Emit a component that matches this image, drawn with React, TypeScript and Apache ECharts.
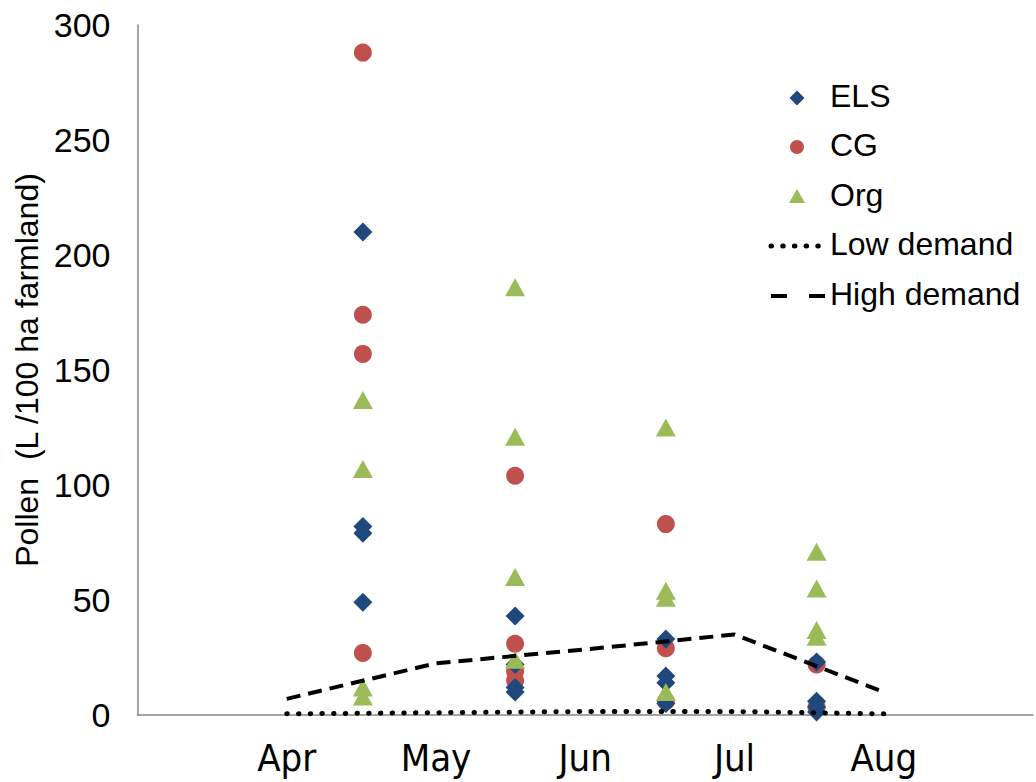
import React, { useEffect, useRef } from "react";
import * as echarts from "echarts";

// Month tick labels and their positions on the x value axis
const months = ["Apr", "May", "Jun", "Jul", "Aug"];
const monthPos = [1, 2, 3, 4, 5];

// Sampling rounds sit between month ticks
const sampleX = [1.51, 2.53, 3.54, 4.55];

// Pollen per sampling round (L /100 ha farmland)
const elsValues = [
  [210, 82, 79, 49],
  [43, 22, 12, 10],
  [33, 17, 14, 5],
  [23, 6, 3.5, 1.3],
];
const cgValues = [
  [288, 174, 157, 27],
  [104, 31, 19, 15],
  [83, 29, 6],
  [22, 3.5],
];
const orgValues = [
  [137, 107, 12, 8],
  [186, 121, 60, 24],
  [125, 54, 51, 10],
  [71, 55, 37, 34],
];

// Colony demand curves at each month
const lowDemand = [0.5, 1, 1.5, 1.5, 0.5];
const highDemand = [7, 22.5, 28.5, 35, 10];

const legendNames = ["ELS", "CG", "Org", "Low demand", "High demand"];

const toPoints = (groups: number[][]) =>
  groups.flatMap((vals, i) => vals.map((v) => [sampleX[i], v]));
const toLine = (vals: number[]) => vals.map((v, i) => [monthPos[i], v]);

const ARIAL = "'Liberation Sans', Arial, sans-serif";
const NARROW = "'Liberation Sans Narrow', 'DejaVu Sans Condensed', sans-serif";

const BLUE = "#1F497D";
const RED = "#C0504D";
const GREEN = "#9BBB59";

// Hand-built key in the upper right
function buildLegend() {
  const rowY = [98, 147, 197, 246, 296];
  const cx = 797;
  const textX = 830;
  const els: any[] = [];
  legendNames.forEach((name, i) => {
    els.push({
      type: "text",
      left: textX,
      top: rowY[i] - 18,
      style: { text: name, font: `32px ${ARIAL}`, fill: "#000" },
    });
  });
  els.push({
    type: "polygon",
    shape: { points: [[cx, rowY[0] - 7.5], [cx + 7.5, rowY[0]], [cx, rowY[0] + 7.5], [cx - 7.5, rowY[0]]] },
    style: { fill: BLUE },
  });
  els.push({ type: "circle", shape: { cx, cy: rowY[1], r: 7 }, style: { fill: RED } });
  els.push({
    type: "polygon",
    shape: { points: [[cx, rowY[2] - 8], [cx + 8, rowY[2] + 6], [cx - 8, rowY[2] + 6]] },
    style: { fill: GREEN },
  });
  els.push({
    type: "line",
    shape: { x1: 771, y1: rowY[3], x2: 826, y2: rowY[3] },
    style: { stroke: "#000", lineWidth: 5, lineDash: [0.5, 11.2], lineCap: "round" },
  });
  els.push({
    type: "line",
    shape: { x1: 771, y1: rowY[4], x2: 826, y2: rowY[4] },
    style: { stroke: "#000", lineWidth: 4, lineDash: [16, 22] },
  });
  return els;
}

export default function App() {
  const ref = useRef<HTMLDivElement>(null);

  useEffect(() => {
    if (!ref.current) return;
    const chart = echarts.init(ref.current, undefined, { renderer: "svg" });
    chart.setOption({
      animation: false,
      backgroundColor: "#ffffff",
      grid: { left: 137.5, top: 25, right: 1.5, bottom: 67, containLabel: false },
      graphic: buildLegend(),
      xAxis: {
        type: "value",
        min: 0,
        max: 6,
        interval: 1,
        axisLine: { show: true, lineStyle: { color: "#868686", width: 1.5 } },
        axisTick: { show: false },
        splitLine: { show: false },
        axisLabel: {
          margin: 24,
          fontFamily: NARROW,
          fontSize: 38,
          color: "#000",
          formatter: (v: number) => {
            const i = monthPos.indexOf(v);
            return i >= 0 ? months[i] : "";
          },
        },
      },
      yAxis: {
        type: "value",
        min: 0,
        max: 300,
        interval: 50,
        name: "Pollen  (L /100 ha farmland)",
        nameLocation: "middle",
        nameGap: 94,
        nameTextStyle: { fontFamily: ARIAL, fontSize: 32, color: "#000" },
        axisLine: { show: true, lineStyle: { color: "#868686", width: 1.5 } },
        axisTick: { show: false },
        splitLine: { show: false },
        axisLabel: { margin: 27, fontFamily: ARIAL, fontSize: 34, color: "#000" },
      },
      series: [
        {
          name: "Low demand",
          type: "line",
          data: toLine(lowDemand),
          symbol: "none",
          lineStyle: { color: "#000", width: 5, type: [0.5, 11.2], cap: "round" },
        },
        {
          name: "High demand",
          type: "line",
          data: toLine(highDemand),
          symbol: "none",
          lineStyle: { color: "#000", width: 4, type: [14, 8] },
        },
        {
          name: "CG",
          type: "scatter",
          data: toPoints(cgValues),
          symbol: "circle",
          symbolSize: 18,
          itemStyle: { color: RED, opacity: 1 },
        },
        {
          name: "ELS",
          type: "scatter",
          data: toPoints(elsValues),
          symbol: "diamond",
          symbolSize: [19, 19],
          itemStyle: { color: BLUE, opacity: 1 },
        },
        {
          name: "Org",
          type: "scatter",
          data: toPoints(orgValues),
          symbol: "triangle",
          symbolSize: [20, 18],
          itemStyle: { color: GREEN, opacity: 1 },
        },
      ],
    });
    return () => chart.dispose();
  }, []);

  return (
    <div
      ref={ref}
      style={{ position: "absolute", left: 0, top: 0, width: 1036, height: 782 }}
    />
  );
}
